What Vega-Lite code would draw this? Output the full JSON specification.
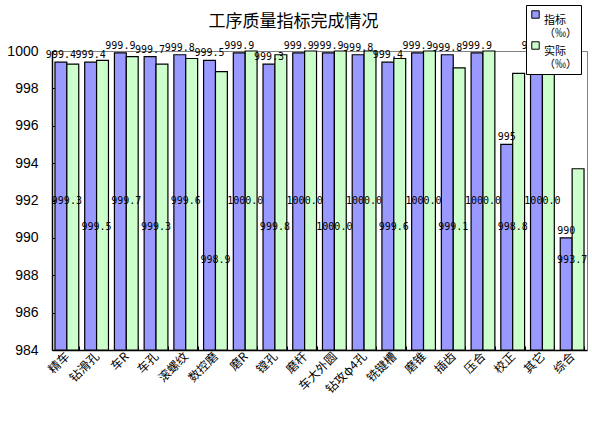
{
  "$schema": "https://vega.github.io/schema/vega-lite/v6.json",
  "autosize": {"type": "none"},
  "padding": {"left": 52, "top": 51, "right": 5, "bottom": 80},
  "width": 535,
  "height": 299,
  "background": "white",
  "title": {
    "text": "工序质量指标完成情况",
    "font": "Noto Sans CJK SC",
    "fontSize": 17,
    "fontWeight": "normal",
    "color": "black",
    "offset": -26,
    "dx": -26
  },
  "config": {
    "view": {"stroke": "#808080", "strokeWidth": 1},
    "axis": {"domainColor": "black", "tickColor": "black", "labelColor": "black"}
  },
  "data": {
    "values": [
      {"item": "精车", "series": "指标", "value": 999.4},
      {"item": "精车", "series": "实际", "value": 999.3},
      {"item": "钻滑孔", "series": "指标", "value": 999.4},
      {"item": "钻滑孔", "series": "实际", "value": 999.5},
      {"item": "车R", "series": "指标", "value": 999.9},
      {"item": "车R", "series": "实际", "value": 999.7},
      {"item": "车孔", "series": "指标", "value": 999.7},
      {"item": "车孔", "series": "实际", "value": 999.3},
      {"item": "滚螺纹", "series": "指标", "value": 999.8},
      {"item": "滚螺纹", "series": "实际", "value": 999.6},
      {"item": "数控磨", "series": "指标", "value": 999.5},
      {"item": "数控磨", "series": "实际", "value": 998.9},
      {"item": "磨R", "series": "指标", "value": 999.9},
      {"item": "磨R", "series": "实际", "value": 1000.0},
      {"item": "镗孔", "series": "指标", "value": 999.3},
      {"item": "镗孔", "series": "实际", "value": 999.8},
      {"item": "磨杆", "series": "指标", "value": 999.9},
      {"item": "磨杆", "series": "实际", "value": 1000.0},
      {"item": "车大外圆", "series": "指标", "value": 999.9},
      {"item": "车大外圆", "series": "实际", "value": 1000.0},
      {"item": "钻攻φ4孔", "series": "指标", "value": 999.8},
      {"item": "钻攻φ4孔", "series": "实际", "value": 1000.0},
      {"item": "铣键槽", "series": "指标", "value": 999.4},
      {"item": "铣键槽", "series": "实际", "value": 999.6},
      {"item": "磨锥", "series": "指标", "value": 999.9},
      {"item": "磨锥", "series": "实际", "value": 1000.0},
      {"item": "插齿", "series": "指标", "value": 999.8},
      {"item": "插齿", "series": "实际", "value": 999.1},
      {"item": "压合", "series": "指标", "value": 999.9},
      {"item": "压合", "series": "实际", "value": 1000.0},
      {"item": "校正", "series": "指标", "value": 995},
      {"item": "校正", "series": "实际", "value": 998.8},
      {"item": "其它", "series": "指标", "value": 999.9},
      {"item": "其它", "series": "实际", "value": 1000.0},
      {"item": "综合", "series": "指标", "value": 990},
      {"item": "综合", "series": "实际", "value": 993.7}
    ]
  },
  "encoding": {
    "x": {
      "field": "item",
      "type": "nominal",
      "sort": null,
      "title": null,
      "scale": {"paddingInner": 0.2, "paddingOuter": 0.1},
      "axis": {
        "labelAngle": -45,
        "labelAlign": "right",
        "labelBaseline": "middle",
        "labelFont": "Noto Sans CJK SC",
        "labelFontSize": 12,
        "labelPadding": 8,
        "tickBand": "extent",
        "tickSize": -4,
        "domainWidth": 1.5
      }
    },
    "y": {
      "field": "value",
      "type": "quantitative",
      "title": null,
      "scale": {"domain": [984, 1000], "zero": false, "nice": false, "clamp": true},
      "axis": {
        "values": [984, 986, 988, 990, 992, 994, 996, 998, 1000],
        "format": "d",
        "grid": false,
        "tickSize": -4,
        "labelPadding": 18,
        "labelFont": "Liberation Sans",
        "labelFontSize": 14,
        "domainWidth": 1.5
      }
    }
  },
  "layer": [
    {
      "mark": {"type": "bar", "stroke": "black", "strokeWidth": 1.2},
      "encoding": {
        "xOffset": {"field": "series", "type": "nominal", "sort": null, "scale": {"domain": ["指标", "实际"]}},
        "color": {
          "field": "series",
          "type": "nominal",
          "scale": {"domain": ["指标", "实际"], "range": ["#9999FF", "#CCFFCC"]},
          "legend": {
            "title": null,
            "orient": "none",
            "legendX": 474,
            "legendY": -46,
            "direction": "vertical",
            "fillColor": "white",
            "strokeColor": "black",
            "padding": 4,
            "symbolType": "square",
            "symbolSize": 55,
            "symbolStrokeColor": "black",
            "symbolStrokeWidth": 1,
            "symbolOpacity": 1,
            "labelFont": "Noto Sans CJK SC",
            "labelFontSize": 11,
            "labelColor": "black",
            "labelBaseline": "top",
            "labelOffset": 3,
            "labelExpr": "[datum.label, '  （‰）']",
            "rowPadding": 0
          }
        }
      }
    },
    {
      "transform": [{"filter": "datum.series === '指标'"}],
      "mark": {"type": "text", "baseline": "bottom", "dy": -2, "font": "DejaVu Sans Mono", "fontSize": 10, "color": "black"},
      "encoding": {
        "xOffset": {"field": "series", "type": "nominal", "sort": null},
        "text": {"field": "value", "type": "quantitative", "format": ".1~f"}
      }
    },
    {
      "transform": [
        {"filter": "datum.series === '实际'"},
        {"filter": {"field": "item", "oneOf": ["精车", "车R", "滚螺纹", "磨R", "磨杆", "钻攻φ4孔", "磨锥", "压合", "其它"]}}
      ],
      "mark": {"type": "text", "baseline": "middle", "font": "DejaVu Sans Mono", "fontSize": 10, "color": "black"},
      "encoding": {
        "y": {"datum": 992.0},
        "text": {"field": "value", "type": "quantitative", "format": ".1f"}
      }
    },
    {
      "transform": [
        {"filter": "datum.series === '实际'"},
        {"filter": {"field": "item", "oneOf": ["钻滑孔", "车孔", "镗孔", "车大外圆", "铣键槽", "插齿", "校正"]}}
      ],
      "mark": {"type": "text", "baseline": "middle", "font": "DejaVu Sans Mono", "fontSize": 10, "color": "black"},
      "encoding": {
        "y": {"datum": 990.6},
        "text": {"field": "value", "type": "quantitative", "format": ".1f"}
      }
    },
    {
      "transform": [
        {"filter": "datum.series === '实际'"},
        {"filter": {"field": "item", "oneOf": ["数控磨", "综合"]}}
      ],
      "mark": {"type": "text", "baseline": "middle", "font": "DejaVu Sans Mono", "fontSize": 10, "color": "black"},
      "encoding": {
        "y": {"datum": 988.8},
        "text": {"field": "value", "type": "quantitative", "format": ".1f"}
      }
    }
  ]
}
